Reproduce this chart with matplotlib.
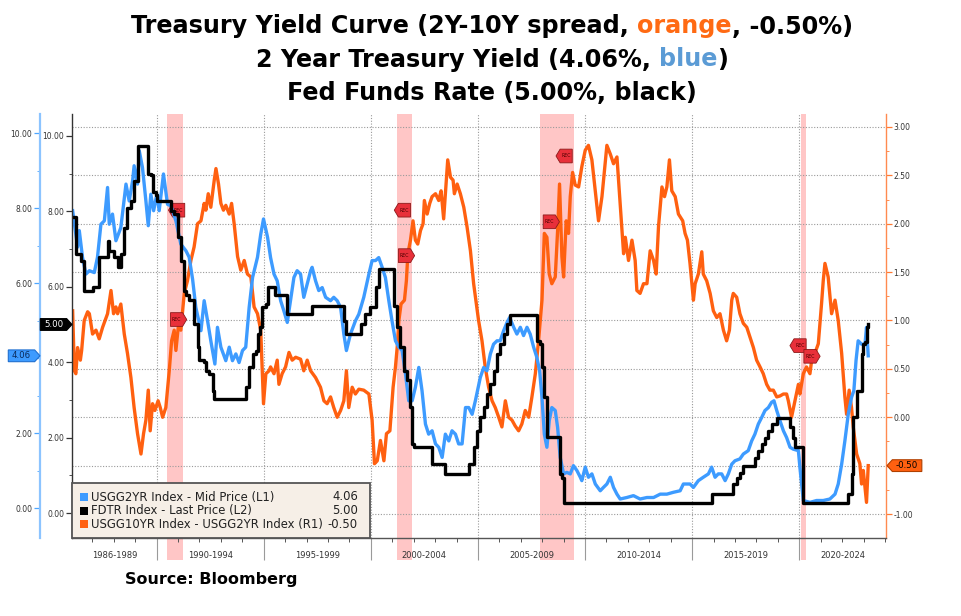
import matplotlib
matplotlib.use("Agg")
import matplotlib.pyplot as plt
from matplotlib.path import Path
from matplotlib.patches import Rectangle
from matplotlib.transforms import blended_transform_factory
from matplotlib.ticker import MultipleLocator, FuncFormatter

# ---------------- data ----------------
UST2Y_T = [1986.08, 1986.31, 1986.39, 1986.54, 1986.70, 1986.86, 1987.09, 1987.24, 1987.40, 1987.56,
           1987.71, 1987.79, 1987.94, 1988.10, 1988.33, 1988.57, 1988.72, 1988.88, 1988.95, 1989.11,
           1989.19, 1989.34, 1989.50, 1989.61, 1989.73, 1989.86, 1990.01, 1990.12, 1990.32, 1990.51,
           1990.67, 1990.90, 1991.13, 1991.37, 1991.52, 1991.68, 1991.83, 1992.07, 1992.22, 1992.38,
           1992.53, 1992.72, 1992.84, 1993.00, 1993.23, 1993.39, 1993.54, 1993.70, 1993.85, 1994.01,
           1994.16, 1994.32, 1994.48, 1994.71, 1994.86, 1994.99, 1995.18,
           1995.32, 1995.48, 1995.63, 1995.79, 1995.94, 1996.10, 1996.25, 1996.41, 1996.56, 1996.72,
           1996.87, 1997.03, 1997.19, 1997.26, 1997.42, 1997.57, 1997.73, 1997.89, 1998.12, 1998.27,
           1998.43, 1998.59, 1998.74, 1998.86, 1999.05, 1999.28, 1999.44, 1999.67, 1999.91, 2000.06,
           2000.22, 2000.37, 2000.53, 2000.68, 2000.84, 2000.99, 2001.15, 2001.31, 2001.46, 2001.62,
           2001.77, 2001.93, 2002.08, 2002.24, 2002.39, 2002.55, 2002.70, 2002.86, 2003.02, 2003.17,
           2003.33, 2003.48, 2003.64, 2003.79, 2003.95, 2004.10, 2004.26, 2004.42, 2004.57, 2004.73,
           2004.88,
           2005.11, 2005.27, 2005.42, 2005.58, 2005.73, 2005.89, 2006.04, 2006.20, 2006.36, 2006.48,
           2006.67, 2006.82, 2006.98, 2007.13, 2007.29, 2007.44, 2007.60, 2007.75, 2007.88, 2007.99,
           2008.10, 2008.22, 2008.33, 2008.45, 2008.61, 2008.72, 2008.84, 2009.00, 2009.15, 2009.31,
           2009.46, 2009.62, 2009.78, 2009.85, 2010.01, 2010.16, 2010.32, 2010.48, 2010.71, 2010.86,
           2011.02, 2011.18, 2011.33, 2011.49, 2011.64, 2011.95, 2012.26, 2012.57, 2012.89, 2013.20,
           2013.51, 2013.82, 2014.13, 2014.44,
           2014.59, 2014.90, 2015.06, 2015.29, 2015.52, 2015.76, 2015.91, 2016.07, 2016.22, 2016.38,
           2016.54, 2016.69, 2016.85, 2017.00, 2017.23, 2017.39, 2017.62, 2017.78, 2017.93, 2018.09,
           2018.25, 2018.40, 2018.56, 2018.71, 2018.82, 2018.95, 2019.10, 2019.26, 2019.41, 2019.57,
           2019.72, 2019.96, 2020.03, 2020.19, 2020.50, 2020.81, 2021.12, 2021.43, 2021.67, 2021.82,
           2021.98, 2022.13, 2022.29, 2022.44, 2022.55, 2022.65, 2022.75, 2022.91, 2023.07, 2023.14,
           2023.22]
UST2Y_V = [7.93, 6.96, 7.40, 6.69, 6.24, 6.33, 6.28, 6.69, 7.57, 7.66,
           8.55, 7.57, 7.84, 7.13, 7.48, 8.64, 8.19, 8.73, 9.13, 8.64,
           9.53, 9.08, 8.19, 7.53, 8.37, 7.93, 8.37, 7.93, 8.91, 8.10,
           8.06, 7.66, 7.04, 6.86, 6.69, 6.10, 5.35, 4.73, 5.53, 4.99,
           4.46, 3.84, 4.82, 4.29, 3.93, 4.29, 3.93, 4.11, 3.88, 4.20,
           4.29, 5.35, 6.15, 6.69, 7.30, 7.71, 7.22,
           6.68, 6.24, 6.06, 5.53, 5.26, 4.95, 5.53, 6.15, 6.33, 6.24,
           5.62, 5.97, 6.33, 6.42, 6.06, 5.80, 5.88, 5.62, 5.53, 5.62,
           5.53, 5.35, 4.64, 4.20, 4.64, 4.99, 5.17, 5.62, 6.24, 6.60,
           6.60, 6.68, 6.42, 6.15, 5.53, 4.99, 4.46, 4.29, 4.20, 3.57,
           2.86, 2.86, 3.22, 3.75, 3.13, 2.24, 1.97, 2.06, 1.71, 1.62,
           1.35, 1.97, 1.79, 2.06, 1.97, 1.71, 1.71, 2.68, 2.68, 2.50,
           2.86,
           3.48, 3.75, 3.66, 4.11, 4.37, 4.46, 4.46, 4.73, 4.95, 5.08,
           4.82, 4.64, 4.82, 4.60, 4.82, 4.64, 4.29, 4.02, 3.66, 2.95,
           1.97, 1.62, 2.33, 2.68, 2.60, 2.15, 1.35, 0.91, 0.95, 0.91,
           1.13, 1.00, 0.82, 0.73, 1.09, 0.82, 0.91, 0.64, 0.46, 0.55,
           0.64, 0.82, 0.55, 0.37, 0.24, 0.28, 0.33, 0.24, 0.28, 0.28,
           0.37, 0.37, 0.42, 0.46,
           0.64, 0.64, 0.55, 0.73, 0.82, 0.91, 1.09, 0.82, 0.91, 0.91,
           0.73, 0.91, 1.17, 1.26, 1.31, 1.44, 1.53, 1.79, 1.97, 2.24,
           2.42, 2.60, 2.68, 2.82, 2.86, 2.60, 2.33, 2.06, 1.88, 1.62,
           1.57, 1.53, 1.09, 0.20, 0.15, 0.20, 0.20, 0.24, 0.37, 0.64,
           1.17, 1.79, 2.51, 2.95, 3.13, 3.93, 4.46, 4.37, 4.37, 4.82,
           4.06]

FFR_T = [1986.08, 1986.23, 1986.47, 1986.62, 1987.01, 1987.32, 1987.71, 1987.79, 1988.02, 1988.18,
         1988.33, 1988.49, 1988.64, 1988.80, 1988.95, 1989.11, 1989.58, 1989.73, 1989.81, 1989.97,
         1990.04, 1990.67, 1990.82, 1990.98, 1991.13, 1991.29, 1991.37, 1991.52, 1991.75, 1991.91,
         1991.99, 1992.22, 1992.30, 1992.45, 1992.61, 1992.69, 1994.17, 1994.32, 1994.48, 1994.63,
         1994.71, 1994.83, 1994.90, 1995.10, 1995.21, 1995.55, 1996.10, 1997.26, 1998.74, 1998.86,
         1999.52, 1999.75, 1999.98, 2000.22, 2000.37, 2001.10, 2001.23, 2001.38, 2001.54, 2001.69,
         2001.85, 2001.93, 2002.00, 2002.86, 2003.48, 2004.57, 2004.80, 2004.96, 2005.11, 2005.27,
         2005.42, 2005.58, 2005.73, 2005.89, 2006.04, 2006.20, 2006.35, 2006.48, 2007.75, 2007.91,
         2007.99, 2008.07, 2008.22, 2008.84, 2008.92, 2009.00, 2015.91, 2016.92, 2017.08, 2017.23,
         2017.39, 2017.93, 2018.09, 2018.25, 2018.40, 2018.56, 2018.71, 2018.95, 2019.57, 2019.69,
         2019.80, 2020.19, 2022.29, 2022.44, 2022.52, 2022.68, 2022.91, 2022.99, 2023.07, 2023.14,
         2023.22]
FFR_V = [7.84, 6.87, 6.69, 5.88, 5.99, 6.78, 7.22, 6.96, 6.78, 6.52,
         6.87, 7.57, 8.10, 8.28, 8.81, 9.74, 8.99, 8.95, 8.51, 8.42,
         8.27, 8.02, 7.93, 7.31, 6.69, 5.90, 5.77, 5.64, 5.01, 4.40,
         4.05, 4.00, 3.78, 3.69, 3.25, 3.03, 3.34, 3.87, 4.22, 4.31,
         4.75, 4.93, 5.46, 5.55, 5.99, 5.77, 5.28, 5.50, 5.10, 4.75,
         5.01, 5.28, 5.46, 5.99, 6.47, 5.50, 4.93, 4.40, 3.78, 3.52,
         2.80, 1.83, 1.74, 1.30, 1.03, 1.30, 1.74, 2.18, 2.54, 2.80,
         3.16, 3.42, 3.78, 4.22, 4.49, 4.75, 5.01, 5.26, 4.57, 4.49,
         3.87, 3.07, 2.01, 1.03, 0.94, 0.26, 0.50, 0.76, 0.94, 1.07,
         1.25, 1.47, 1.65, 1.83, 2.00, 2.18, 2.36, 2.52, 2.27, 2.00,
         1.74, 0.26, 0.50, 1.03, 2.54, 3.25, 4.22, 4.49, 4.53, 4.93,
         5.00]

SPREAD_T = [1986.08, 1986.16, 1986.23, 1986.31, 1986.44, 1986.50, 1986.62, 1986.78, 1986.86, 1987.01,
            1987.17, 1987.32, 1987.48, 1987.71, 1987.87, 1987.99, 1988.10, 1988.18, 1988.33, 1988.49,
            1988.64, 1988.80, 1988.95, 1989.11, 1989.27, 1989.39, 1989.50, 1989.61, 1989.70, 1989.81,
            1989.92, 1990.07, 1990.17, 1990.28, 1990.43, 1990.59, 1990.70, 1990.82, 1990.90, 1991.01,
            1991.13, 1991.29, 1991.44, 1991.60, 1991.75, 1991.91, 1992.07, 1992.22, 1992.30, 1992.41,
            1992.53, 1992.69, 1992.77, 1992.89, 1993.00, 1993.12, 1993.23, 1993.39, 1993.50, 1993.62,
            1993.78, 1993.93, 1994.09, 1994.24, 1994.40, 1994.55, 1994.71, 1994.86, 1994.99, 1995.10,
            1995.25,
            1995.32, 1995.48, 1995.63, 1995.71, 1995.86, 1996.02, 1996.18, 1996.33, 1996.49, 1996.72,
            1996.87, 1997.03, 1997.19, 1997.42, 1997.65, 1997.81, 1997.96, 1998.12, 1998.27, 1998.43,
            1998.59, 1998.74, 1998.86, 1998.97, 1999.13, 1999.28, 1999.44, 1999.67, 1999.91, 2000.06,
            2000.17, 2000.30, 2000.45, 2000.61, 2000.73, 2000.89, 2001.04, 2001.15, 2001.23, 2001.31,
            2001.41, 2001.57, 2001.66, 2001.73, 2001.85, 2001.97, 2002.08, 2002.19, 2002.32, 2002.44,
            2002.50, 2002.63, 2002.75, 2002.86, 2003.02, 2003.17, 2003.28, 2003.40, 2003.51, 2003.59,
            2003.72, 2003.84, 2003.90, 2004.03, 2004.18, 2004.34, 2004.49, 2004.65, 2004.80,
            2005.03, 2005.19, 2005.34, 2005.50, 2005.66, 2005.81, 2005.97, 2006.12, 2006.28, 2006.43,
            2006.59, 2006.74, 2006.90, 2007.05, 2007.21, 2007.37, 2007.52, 2007.68, 2007.83, 2007.99,
            2008.10, 2008.22, 2008.33, 2008.45, 2008.61, 2008.72, 2008.81, 2008.92, 2009.00, 2009.12,
            2009.23, 2009.31, 2009.42, 2009.54, 2009.70, 2009.85, 2010.01, 2010.16, 2010.32, 2010.48,
            2010.63, 2010.79, 2010.94, 2011.02, 2011.18, 2011.33, 2011.49, 2011.64, 2011.80, 2011.88,
            2012.03, 2012.19, 2012.34, 2012.42, 2012.57, 2012.73, 2012.89, 2013.04, 2013.20, 2013.32,
            2013.43, 2013.59, 2013.71, 2013.82, 2013.94, 2014.05, 2014.21, 2014.36,
            2014.56, 2014.67, 2014.78, 2014.90, 2015.06, 2015.14, 2015.29, 2015.45, 2015.52, 2015.68,
            2015.84, 2015.99, 2016.15, 2016.30, 2016.46, 2016.61, 2016.74, 2016.85, 2016.92, 2017.08,
            2017.23, 2017.39, 2017.55, 2017.70, 2017.86, 2018.01, 2018.17, 2018.32, 2018.48, 2018.63,
            2018.79, 2018.95, 2019.10, 2019.26, 2019.41, 2019.49, 2019.64, 2019.80, 2019.96, 2020.03,
            2020.19, 2020.34, 2020.50, 2020.58, 2020.73, 2020.89, 2021.04, 2021.12, 2021.20, 2021.35,
            2021.51, 2021.67, 2021.82, 2021.98, 2022.13, 2022.21, 2022.33, 2022.44, 2022.52, 2022.68,
            2022.83, 2022.91, 2022.99, 2023.14, 2023.22]
SPREAD_V = [1.10, 0.48, 0.45, 0.72, 0.59, 0.69, 1.00, 1.09, 1.07, 0.86,
            0.90, 0.81, 0.93, 1.07, 1.31, 1.07, 1.14, 1.07, 1.17, 0.86,
            0.66, 0.41, 0.10, -0.17, -0.38, -0.17, -0.03, 0.28, -0.14, 0.14,
            0.07, 0.17, 0.10, 0.00, 0.10, 0.48, 0.79, 0.90, 0.69, 0.93,
            0.90, 1.28, 1.41, 1.62, 1.76, 2.00, 2.03, 2.21, 2.14, 2.31,
            2.17, 2.45, 2.57, 2.41, 2.21, 2.14, 2.19, 2.10, 2.21, 2.00,
            1.66, 1.52, 1.62, 1.48, 1.45, 1.14, 1.07, 0.90, 0.14, 0.45,
            0.48,
            0.52, 0.45, 0.59, 0.34, 0.45, 0.52, 0.67, 0.59, 0.62, 0.60,
            0.48, 0.59, 0.48, 0.41, 0.31, 0.17, 0.14, 0.21, 0.10, 0.00,
            0.07, 0.17, 0.48, 0.10, 0.31, 0.24, 0.29, 0.28, 0.24, -0.03,
            -0.48, -0.45, -0.24, -0.45, -0.17, -0.14, 0.31, 0.52, 0.72, 1.00,
            1.17, 1.21, 1.41, 1.69, 1.83, 2.03, 1.83, 1.79, 1.93, 2.00,
            2.24, 2.10, 2.21, 2.28, 2.31, 2.24, 2.34, 2.05, 2.41, 2.66,
            2.48, 2.45, 2.31, 2.41, 2.31, 2.17, 1.97, 1.72, 1.38,
            1.00, 0.79, 0.52, 0.31, 0.17, 0.10, 0.00, -0.10, 0.17, 0.00,
            -0.03, -0.09, -0.14, -0.07, 0.07, 0.00, 0.21, 0.45, 0.79, 1.21,
            1.90, 1.86, 1.48, 1.38, 1.45, 1.93, 2.41, 1.66, 1.45, 2.03,
            1.90, 2.28, 2.53, 2.40, 2.38, 2.59, 2.76, 2.81, 2.66, 2.34,
            2.03, 2.28, 2.62, 2.81, 2.72, 2.62, 2.69, 2.21, 1.69, 1.86,
            1.62, 1.83, 1.62, 1.31, 1.28, 1.38, 1.38, 1.72, 1.62, 1.48,
            1.97, 2.38, 2.28, 2.38, 2.66, 2.34, 2.28, 2.10,
            2.03, 1.90, 1.83, 1.59, 1.21, 1.38, 1.48, 1.71, 1.48, 1.41,
            1.28, 1.10, 1.03, 1.07, 0.90, 0.79, 0.90, 1.21, 1.28, 1.24,
            1.07, 0.97, 0.93, 0.83, 0.72, 0.59, 0.52, 0.45, 0.34, 0.28,
            0.28, 0.21, 0.22, 0.24, 0.24, 0.17, 0.00, 0.17, 0.34, 0.24,
            0.45, 0.52, 0.45, 0.59, 0.66, 0.76, 1.17, 1.41, 1.59, 1.45,
            1.07, 1.21, 1.00, 0.66, 0.21, 0.03, 0.28, 0.10, -0.10, -0.38,
            -0.48, -0.69, -0.55, -0.88, -0.50]

RECESSIONS = [(1990.50, 1991.25), (2001.20, 2001.90), (2007.92, 2009.50), (2020.08, 2020.33)]
GROUP_EDGES = [1986.05, 1990, 1995, 2000, 2005, 2010, 2015, 2020, 2024.05]
GROUP_LABELS = ["1986-1989", "1990-1994", "1995-1999", "2000-2004",
                "2005-2009", "2010-2014", "2015-2019", "2020-2024"]
LAST_2Y, LAST_FFR, LAST_SPREAD = 4.06, 5.00, -0.50
LEGEND_LABELS = ["USGG2YR Index - Mid Price (L1)", "FDTR Index - Last Price (L2)",
                 "USGG10YR Index - USGG2YR Index (R1)"]
# REC event flags: (year, level on right axis, pointing direction)
REC_FLAGS = [(1991.03, 2.14, "left"), (1990.93, 1.01, "right"),
             (2001.57, 2.14, "left"), (2001.57, 1.67, "right"),
             (2009.12, 2.70, "left"), (2008.33, 2.02, "right"),
             (2020.04, 0.74, "left"), (2020.50, 0.63, "right")]

# ---------------- styling ----------------
ORANGE = "#FF6010"
BLUE = "#3D9BFF"
BLACK = "#000000"
GRID = "#9a9a9a"

W_PX, H_PX = 961, 616
fig = plt.figure(figsize=(W_PX / 100, H_PX / 100), dpi=100)
fig.patch.set_facecolor("white")


def fx(x):
    return x / W_PX


def fy(y):
    return 1 - y / H_PX


PL, PR, PT, PB = 72, 886, 114, 538
ax = fig.add_axes([fx(PL), fy(PB), (PR - PL) / W_PX, (PB - PT) / H_PX])
ax_r = ax.twinx()
ax_b = ax.twinx()
ax.set_zorder(3)
ax_b.set_zorder(2)
ax_r.set_zorder(1)
for a in (ax, ax_r, ax_b):
    a.patch.set_visible(False)
    for s in a.spines.values():
        s.set_visible(False)

ax.set_xlim(GROUP_EDGES[0], GROUP_EDGES[-1])
ax.set_ylim(-0.66, 10.58)
ax_b.set_ylim(-0.80, 10.51)
ax_r.set_ylim(-1.248, 3.134)

# spines
ax.spines["left"].set_visible(True)
ax.spines["left"].set_color("#333333")
ax.spines["left"].set_linewidth(1.0)
ax.spines["bottom"].set_visible(True)
ax.spines["bottom"].set_color("#555555")
ax.spines["bottom"].set_linewidth(1.0)
ax_r.spines["right"].set_visible(True)
ax_r.spines["right"].set_color("#FF8A50")
ax_r.spines["right"].set_linewidth(1.0)
ax_b.yaxis.tick_left()
ax_b.yaxis.set_label_position("left")
ax_b.spines["left"].set_visible(True)
ax_b.spines["left"].set_position(("outward", 32 * 0.72))
ax_b.spines["left"].set_color("#8CC4FF")
ax_b.spines["left"].set_linewidth(1.6)


def fmt_hiding(hidden, tol):
    # tick labels that sit under a value tag are hidden, as in the reference
    def f(v, pos):
        if hidden is not None and abs(v - hidden) < tol:
            return ""
        return f"{v:.2f}"
    return FuncFormatter(f)


# y ticks
for a, maj, mnr, col, hid, tol in ((ax, 2, 1, "#333333", None, 0),
                                   (ax_b, 2, 1, "#4DA6FF", LAST_2Y, 0.3),
                                   (ax_r, 0.5, 0.25, "#FF7A33", LAST_SPREAD, 0.1)):
    a.yaxis.set_major_locator(MultipleLocator(maj))
    a.yaxis.set_minor_locator(MultipleLocator(mnr))
    a.yaxis.set_major_formatter(fmt_hiding(hid, tol))
    a.tick_params(axis="y", which="major", direction="out", length=4, width=0.9,
                  color=col, labelsize=5.5, labelcolor="#333333", pad=1.5)
    a.tick_params(axis="y", which="minor", direction="out", length=2, width=0.6, color=col)

# x ticks: long separators at group boundaries, small yearly ticks
ax.set_xticks(GROUP_EDGES[1:-1])
ax.set_xticklabels([])
ax.set_xticks(list(range(1987, 2025)), minor=True)
ax.tick_params(axis="x", which="major", direction="out", length=16, width=0.8, color="#9a9a9a")
ax.tick_params(axis="x", which="minor", direction="out", length=3, width=0.7, color="#555555")

# grid
ax_r.yaxis.grid(True, which="major", color=GRID, linestyle=(0, (1, 1.5)), linewidth=0.8)
ax_r.set_axisbelow(True)
for e in GROUP_EDGES[1:-1]:
    ax_r.axvline(e, color=GRID, linestyle=(0, (1, 1.5)), linewidth=0.8, zorder=0.5)

# recession shading
for a0, a1 in RECESSIONS:
    ax_r.axvspan(a0, a1, ymin=-0.052, ymax=1.0, facecolor="#FFB3B3", alpha=0.75,
                 lw=0, clip_on=False, zorder=0.2)

# series
ax_r.plot(SPREAD_T, SPREAD_V, color=ORANGE, lw=2.4, solid_joinstyle="round", zorder=2)
ax_b.plot(UST2Y_T, UST2Y_V, color=BLUE, lw=2.4, solid_joinstyle="round", zorder=2)
ax.plot(FFR_T, FFR_V, color=BLACK, lw=2.4, drawstyle="steps-post", zorder=2)

# group labels
trans_x = blended_transform_factory(ax.transData, ax.transAxes)
for lab, a0, a1 in zip(GROUP_LABELS, GROUP_EDGES[:-1], GROUP_EDGES[1:]):
    ax.text((a0 + a1) / 2, -18 / (PB - PT), lab, transform=trans_x, ha="center",
            va="center", fontsize=6, color="#333333")


# pentagon tag box style
class Pent:
    def __init__(self, direction, padx, pady, tip):
        self.direction, self.padx, self.pady, self.tip = direction, padx, pady, tip

    def __call__(self, x0, y0, width, height, mutation_size):
        px, py = self.padx * mutation_size, self.pady * mutation_size
        tip = self.tip * mutation_size
        xa, xb = x0 - px, x0 + width + px
        ya, yb = y0 - py, y0 + height + py
        ym = (ya + yb) / 2
        if self.direction == "right":
            verts = [(xa, ya), (xb, ya), (xb + tip, ym), (xb, yb), (xa, yb), (xa, ya)]
        else:
            verts = [(xa, ya), (xb, ya), (xb, yb), (xa, yb), (xa - tip, ym), (xa, ya)]
        return Path(verts, closed=True)


def value_tag(axis, yval, side, spine_px, fc, ec, tc, fs=6.2):
    fs_px = fs * 100 / 72
    padx, pady, tip = 0.42, 0.16, 0.62
    shift = (padx + tip) * fs_px
    if side == "left":
        xo, ha, direction = spine_px - shift, "right", "right"
        xa = 0
    else:
        xo, ha, direction = spine_px + shift, "left", "left"
        xa = 1
    axis.annotate(f"{yval:.2f}", xy=(xa, yval),
                  xycoords=blended_transform_factory(axis.transAxes, axis.transData),
                  xytext=(xo * 0.72, 0), textcoords="offset points", ha=ha, va="center",
                  fontsize=fs, color=tc, annotation_clip=False, zorder=20,
                  bbox=dict(boxstyle=Pent(direction, padx, pady, tip), fc=fc, ec=ec, lw=0.8))


value_tag(ax, LAST_FFR, "left", 0, "#000000", "#000000", "white")
value_tag(ax_b, LAST_2Y, "left", -32, BLUE, "#1F6FD0", "#0A2A5A")
value_tag(ax_r, LAST_SPREAD, "right", 1, ORANGE, "#B04000", "#000000")

# REC flags
for yr, lvl, d in REC_FLAGS:
    ax_r.text(yr, lvl, "REC", fontsize=3.3, color="#4a0000", ha="center", va="center", zorder=6,
              bbox=dict(boxstyle=Pent(d, 0.3, 0.95, 0.9), fc="#E8303A", ec="#8B1A1A", lw=0.6))

# legend (drawn by hand, Bloomberg style)
leg_rect = Rectangle((fx(72), fy(538)), (370 - 72) / W_PX, (538 - 483) / H_PX,
                     transform=fig.transFigure, facecolor="#F6EFE7", edgecolor="#555555",
                     lw=1.3, zorder=30)
fig.add_artist(leg_rect)
leg_vals = [f"{LAST_2Y:.2f}", f"{LAST_FFR:.2f}", f"{LAST_SPREAD:.2f}"]
for i, (lab, val, col) in enumerate(zip(LEGEND_LABELS, leg_vals, [BLUE, BLACK, ORANGE])):
    yc = 497 + 13.7 * i
    fig.add_artist(Rectangle((fx(80), fy(yc + 4)), 8 / W_PX, 8 / H_PX, transform=fig.transFigure,
                             facecolor=col, edgecolor="none", zorder=31))
    fig.text(fx(91), fy(yc), lab, fontsize=8.4, ha="left", va="center", color="#222222", zorder=32)
    fig.text(fx(358), fy(yc), val, fontsize=8.4, ha="right", va="center", color="#222222", zorder=32)

# titles with coloured words
renderer = fig.canvas.get_renderer()
TFONT = dict(family=["DejaVu Sans"], weight="bold")


def wpx(s, size):
    t = fig.text(0, 0, "|" + s + "|", fontsize=size, **TFONT)
    w = t.get_window_extent(renderer=renderer).width
    t.remove()
    t = fig.text(0, 0, "||", fontsize=size, **TFONT)
    w2 = t.get_window_extent(renderer=renderer).width
    t.remove()
    return w - w2


title_lines = [
    [(f"Treasury Yield Curve (2Y-10Y spread, ", "black"), ("orange", "#FF6A13"),
     (f", {LAST_SPREAD:.2f}%)", "black")],
    [(f"2 Year Treasury Yield ({LAST_2Y:.2f}%, ", "black"), ("blue", "#5B9BD5"), (")", "black")],
    [(f"Fed Funds Rate ({LAST_FFR:.2f}%, black)", "black")],
]
base = 20
w1 = sum(wpx(s, base) for s, _ in title_lines[0])
tsize = base * 722 / w1
baselines = [33.5, 66.5, 99.5]
for parts, yb in zip(title_lines, baselines):
    widths = [wpx(s, tsize) for s, _ in parts]
    x = 492 - sum(widths) / 2
    for (s, c), w in zip(parts, widths):
        fig.text(fx(x), fy(yb), s, fontsize=tsize, color=c, ha="left", va="baseline", **TFONT)
        x += w

src = "Source: Bloomberg"
ssize = base * 173 / wpx(src, base)
fig.text(fx(125), fy(584), src, fontsize=ssize, color="black", ha="left", va="baseline", **TFONT)

fig.savefig("out.png", dpi=100)
